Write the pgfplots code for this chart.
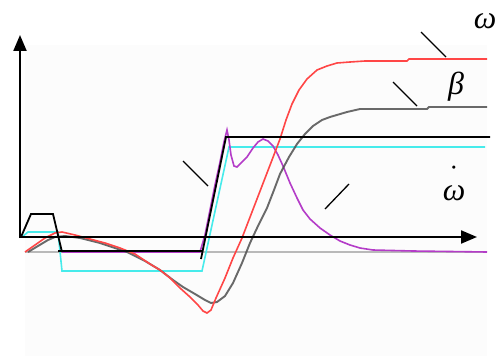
\documentclass[border=0pt]{standalone}
\usepackage{pgfplots}
\pgfplotsset{compat=1.18}
\usetikzlibrary{arrows.meta}
\usepackage{fontspec}
\newfontfamily\tms{Liberation Serif}

\definecolor{omegared}{RGB}{255,70,70}
\definecolor{betagray}{RGB}{80,80,80}
\definecolor{refcyan}{RGB}{70,235,235}
\definecolor{dotpurple}{RGB}{180,60,200}
\definecolor{basegray}{RGB}{185,185,185}

\begin{document}
\begin{tikzpicture}
\begin{axis}[
  width=499bp, height=356bp, scale only axis,
  xmin=0, xmax=499, ymin=0, ymax=356, y dir=reverse,
  hide axis, clip=false,
]
% page and faint panel background
\addplot[draw=none, fill=white] coordinates {(0,0) (499,0) (499,356) (0,356)} -- cycle;
\addplot[draw=none, fill=black!1] coordinates {(25,45) (487,45) (487,356) (25,356)} -- cycle;

% zero baseline
\addplot[basegray, line width=1.4bp] coordinates {(25,252) (487,252)};

% reference rate (cyan)
\addplot[refcyan, line width=1.6bp] coordinates {
(22,237) (28,232) (58,232) (62,271) (202,271) (229,147) (485,147)};

% angular acceleration (purple)
\addplot[dotpurple, line width=1.6bp] coordinates {
(62,252) (200,252) (205,235) (210,210) (215,185) (220,162) (224,142) (227,130)
(229,140) (231,155) (234,166) (237,167) (242,162) (247,157) (253,148) (258,142)
(263,139) (268,141) (273,146) (278,155) (283,166) (290,183) (297,198) (303,210)
(310,219) (320,228) (330,235) (340,241) (350,245) (360,248) (373,250) (413,251) (487,252)};

% angle (gray)
\addplot[betagray, line width=1.9bp, opacity=0.85] coordinates {
(28,252) (38,246) (48,240) (55,237) (65,236) (80,238) (100,243) (127,252)
(145,261) (160,270) (173,280) (183,287) (195,294) (205,300) (211,303) (217,302)
(225,296) (233,283) (242,263) (250,243) (258,226) (267,208) (274,190) (280,174)
(289,157) (297,144) (305,134) (313,126) (322,120) (330,117) (347,112) (360,109)
(427,109) (429,107) (487,107)};

% angular rate (red)
\addplot[omegared, line width=1.6bp] coordinates {
(25,252) (35,245) (45,238) (55,233) (62,232) (75,235) (90,239) (105,243)
(120,248) (135,254) (150,264) (160,270) (170,278) (180,288) (190,297) (198,305)
(203,311) (207,313) (211,310) (216,298) (225,278) (233,258) (242,238) (252,212)
(262,186) (272,160) (280,139) (286,120) (292,104) (299,90) (307,79) (317,70)
(327,66) (337,63) (350,62) (365,61) (407,61) (409,59) (487,59)};

% command signal (black)
\addplot[black, line width=1.8bp] coordinates {
(21,237) (31,214) (53,214) (62,252)};
\addplot[black, line width=1.8bp] coordinates {(58,251) (203,251)};
\addplot[black, line width=1.8bp] coordinates {(201,259) (226,137) (490,137)};

% axes
\addplot[black, line width=2.2bp, -{Triangle[length=16bp,width=13bp]}] coordinates {(20,238) (20,35)};
\addplot[black, line width=2.2bp, -{Triangle[length=16bp,width=13bp]}] coordinates {(19,237) (477,237)};

% leader lines
\addplot[black, line width=1.3bp] coordinates {(421,32) (446,57)};
\addplot[black, line width=1.3bp] coordinates {(393,82) (417,106)};
\addplot[black, line width=1.3bp] coordinates {(183,161) (208,186)};
\addplot[black, line width=1.3bp] coordinates {(349,184) (325,209)};

% labels
\node[inner sep=0pt, font=\fontsize{32}{34}\selectfont\tms\itshape] at (axis cs:485,21) {ω};
\node[inner sep=0pt, font=\fontsize{32}{34}\selectfont\tms\itshape] at (axis cs:456,87) {β};
\node[inner sep=0pt, font=\fontsize{32}{34}\selectfont\tms\itshape] at (axis cs:454,193) {ω};
\node[inner sep=0pt, font=\fontsize{12}{14}\selectfont] at (axis cs:454,168) {\textbullet};
\end{axis}
\end{tikzpicture}
\end{document}
